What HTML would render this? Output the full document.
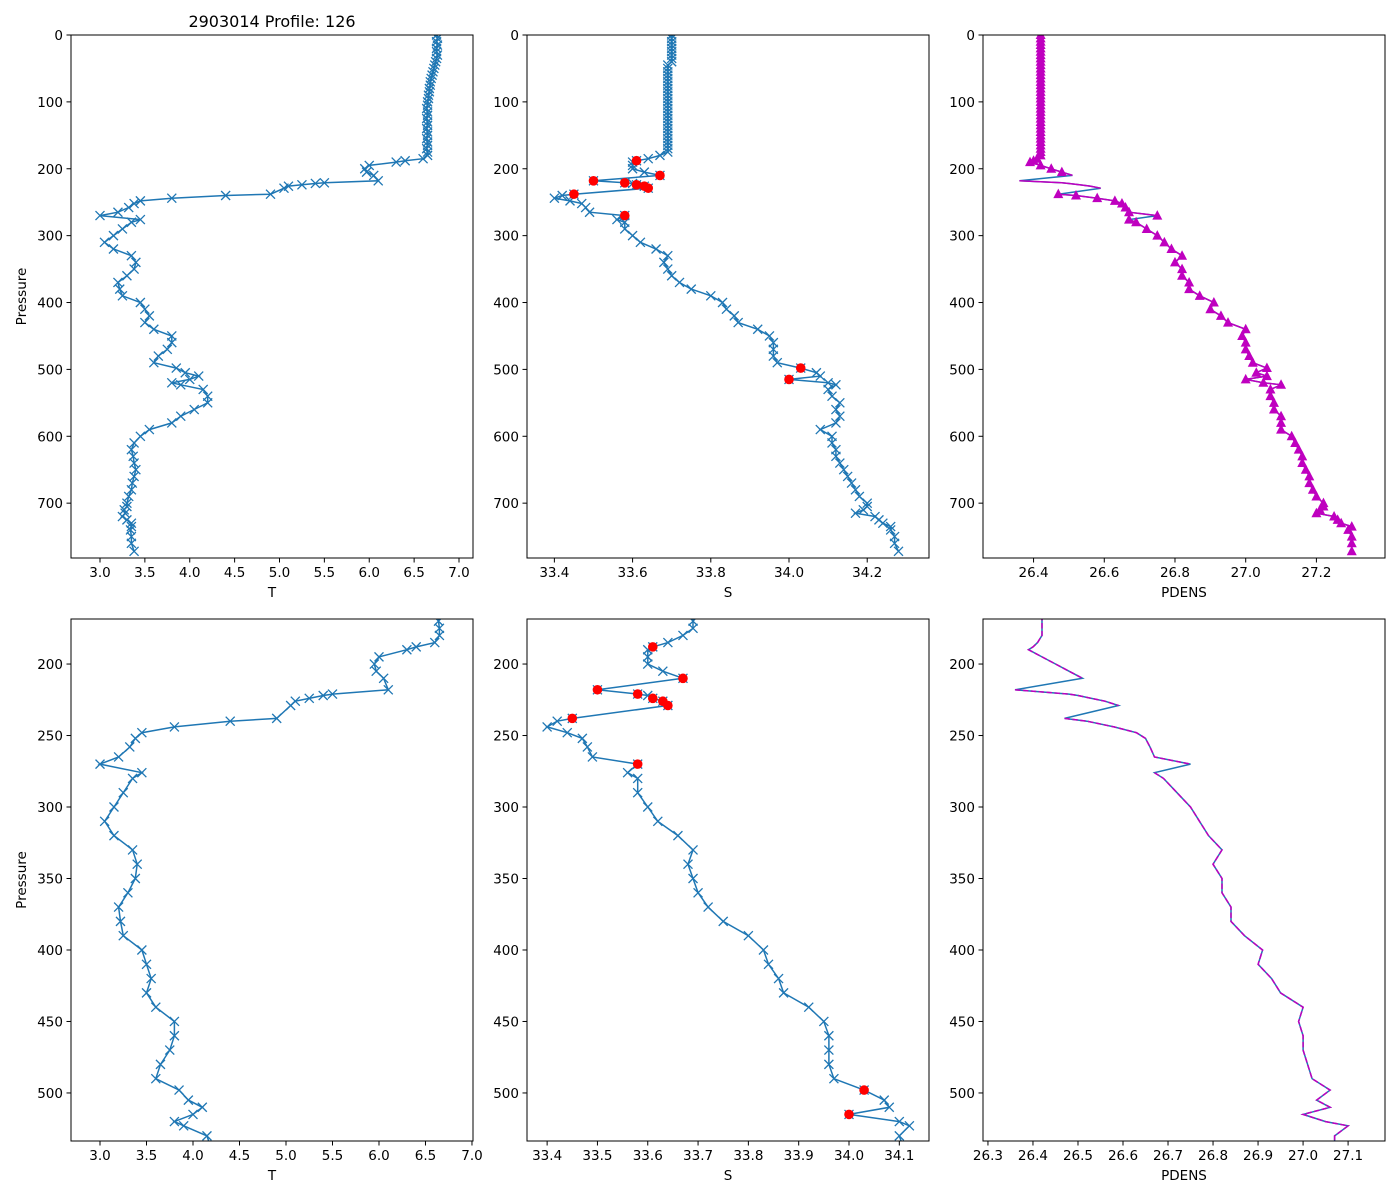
<!DOCTYPE html>
<html><head><meta charset="utf-8"><style>
html,body{margin:0;padding:0;background:#fff;overflow:hidden}
svg{display:block}
svg text{font-family:"DejaVu Sans","Liberation Sans",sans-serif;fill:#000}
</style></head><body>
<svg id="fig" width="1400" height="1200" viewBox="0 0 1400 1200" xmlns="http://www.w3.org/2000/svg">
<rect width="1400" height="1200" fill="#fff"/>
<text x="272" y="27" font-size="16" text-anchor="middle">2903014 Profile: 126</text>
</svg>
<script>
const pres = [0,5,10,15,20,25,30,35,40,45,50,55,60,65,70,75,80,85,90,95,100,105,110,115,120,125,130,135,140,145,150,155,160,165,170,175,180,
185,188,190,195,200,205,210,218,221,222,224,226,229,238,240,244,248,252,258,265,270,276,280,290,300,310,320,330,340,350,360,370,380,390,400,410,420,430,440,450,460,470,480,490,498,505,510,515,520,523,530,540,550,560,570,580,
590,600,610,620,630,640,650,660,670,680,690,700,705,710,715,720,725,730,735,740,750,760,772];
const temp = [6.75,6.76,6.75,6.76,6.75,6.75,6.76,6.75,6.74,6.73,6.72,6.71,6.7,6.69,6.68,6.68,6.67,6.67,6.66,6.66,6.65,6.65,6.64,6.65,6.65,6.64,6.65,6.65,6.64,6.65,6.65,6.64,6.65,6.65,6.64,6.65,6.65,
6.6,6.4,6.3,6.0,5.95,5.97,6.05,6.1,5.5,5.4,5.25,5.1,5.05,4.9,4.4,3.8,3.45,3.38,3.32,3.2,3.0,3.45,3.35,3.25,3.15,3.05,3.15,3.35,3.4,3.38,3.3,3.2,3.22,3.25,3.45,3.5,3.55,3.5,3.6,3.8,3.8,3.75,3.65,3.6,3.85,3.95,4.1,4.0,3.8,3.9,4.15,4.2,4.2,4.05,3.9,3.8,
3.55,3.45,3.38,3.35,3.37,3.38,3.4,3.38,3.36,3.35,3.32,3.3,3.3,3.27,3.28,3.25,3.3,3.35,3.35,3.34,3.35,3.35,3.38];
const sal = [33.7,33.7,33.7,33.7,33.7,33.7,33.7,33.7,33.7,33.69,33.69,33.69,33.69,33.69,33.69,33.69,33.69,33.69,33.69,33.69,33.69,33.69,33.69,33.69,33.69,33.69,33.69,33.69,33.69,33.69,33.69,33.69,33.69,33.69,33.69,33.69,33.67,
33.64,33.61,33.6,33.6,33.6,33.63,33.67,33.5,33.58,33.6,33.61,33.63,33.64,33.45,33.42,33.4,33.44,33.47,33.48,33.49,33.58,33.56,33.58,33.58,33.6,33.62,33.66,33.69,33.68,33.69,33.7,33.72,33.75,33.8,33.83,33.84,33.86,33.87,33.92,33.95,33.96,33.96,33.96,33.97,34.03,34.07,34.08,34.0,34.1,34.12,34.1,34.11,34.13,34.12,34.13,34.12,
34.08,34.11,34.11,34.12,34.12,34.13,34.14,34.15,34.16,34.17,34.18,34.2,34.2,34.19,34.17,34.22,34.23,34.24,34.26,34.26,34.27,34.27,34.28];
const pdens = [26.42,26.42,26.42,26.42,26.42,26.42,26.42,26.42,26.42,26.42,26.42,26.42,26.42,26.42,26.42,26.42,26.42,26.42,26.42,26.42,26.42,26.42,26.42,26.42,26.42,26.42,26.42,26.42,26.42,26.42,26.42,26.42,26.42,26.42,26.42,26.42,26.42,
26.41,26.4,26.39,26.42,26.45,26.48,26.51,26.36,26.48,26.5,26.53,26.56,26.59,26.47,26.52,26.58,26.63,26.65,26.66,26.67,26.75,26.67,26.69,26.72,26.75,26.77,26.79,26.82,26.8,26.82,26.82,26.84,26.84,26.87,26.91,26.9,26.93,26.95,27.0,26.99,27.0,27.0,27.01,27.02,27.06,27.03,27.06,27.0,27.05,27.1,27.07,27.07,27.08,27.08,27.1,27.1,
27.1,27.13,27.14,27.15,27.16,27.16,27.17,27.18,27.18,27.19,27.2,27.22,27.22,27.21,27.2,27.25,27.26,27.27,27.3,27.29,27.3,27.3,27.3];
const badFlag = [188,210,218,221,224,226,229,238,270,498,515];
const pdBreakAfter = [210,229,270];

const NS='http://www.w3.org/2000/svg';
const svg=document.getElementById('fig');
function mk(tag,attrs,parent){const e=document.createElementNS(NS,tag);for(const k in attrs)e.setAttribute(k,attrs[k]);(parent||svg).appendChild(e);return e;}

const TOPY=[0,782], BOTY=[168.5,533.6];
const panels=[
 {name:'top-temperature',x0:71,x1:473,y0:35,y1:558,xd:[2.677,7.156],yd:TOPY,xt:[3,3.5,4,4.5,5,5.5,6,6.5,7],yt:[0,100,200,300,400,500,600,700],xl:'T',yl:true,v:temp,kind:'x'},
 {name:'top-salinity',x0:527,x1:929,y0:35,y1:558,xd:[33.33,34.358],yd:TOPY,xt:[33.4,33.6,33.8,34.0,34.2],yt:[0,100,200,300,400,500,600,700],xl:'S',yl:false,v:sal,kind:'s'},
 {name:'top-density',x0:983,x1:1385,y0:35,y1:558,xd:[26.257,27.394],yd:TOPY,xt:[26.4,26.6,26.8,27.0,27.2],yt:[0,100,200,300,400,500,600,700],xl:'PDENS',yl:false,v:pdens,kind:'pt'},
 {name:'bottom-temperature',x0:71,x1:473,y0:619,y1:1141,xd:[2.688,7.011],yd:BOTY,xt:[3,3.5,4,4.5,5,5.5,6,6.5,7],yt:[200,250,300,350,400,450,500],xl:'T',yl:true,v:temp,kind:'x'},
 {name:'bottom-salinity',x0:527,x1:929,y0:619,y1:1141,xd:[33.36,34.159],yd:BOTY,xt:[33.4,33.5,33.6,33.7,33.8,33.9,34.0,34.1],yt:[200,250,300,350,400,450,500],xl:'S',yl:false,v:sal,kind:'s'},
 {name:'bottom-density',x0:983,x1:1385,y0:619,y1:1141,xd:[26.289,27.182],yd:BOTY,xt:[26.3,26.4,26.5,26.6,26.7,26.8,26.9,27.0,27.1],yt:[200,250,300,350,400,450,500],xl:'PDENS',yl:false,v:pdens,kind:'pd'}
];
const BLUE='#1f77b4';
panels.forEach((p,pi)=>{
 const g=mk('g',{});
 
 
 const sx=v=>p.x0+(v-p.xd[0])/(p.xd[1]-p.xd[0])*(p.x1-p.x0);
 const sy=v=>p.y0+(v-p.yd[0])/(p.yd[1]-p.yd[0])*(p.y1-p.y0);
 const cid='clip'+pi;
 const cp=mk('clipPath',{id:cid},g);mk('rect',{x:p.x0,y:p.y0,width:p.x1-p.x0,height:p.y1-p.y0},cp);
 const plot=mk('g',{'clip-path':'url(#'+cid+')'},g);
 let d='';
 pres.forEach((pp,i)=>{d+=(i?'L':'M')+sx(p.v[i]).toFixed(1)+' '+sy(pp).toFixed(1);});
 const ln=mk('path',{d:d,fill:'none',stroke:BLUE,'stroke-width':1.5},plot);
 
 
 if(p.kind==='x'||p.kind==='s'){
  pres.forEach((pp,i)=>{const cx=sx(p.v[i]),cy=sy(pp);
   const m=mk('path',{d:`M${cx-4.5} ${cy-4.5}L${cx+4.5} ${cy+4.5}M${cx-4.5} ${cy+4.5}L${cx+4.5} ${cy-4.5}`,stroke:BLUE,'stroke-width':1.3,fill:'none'},plot);
   
   
  });
  if(p.kind==='s'){
   pres.forEach((pp,i)=>{if(badFlag.indexOf(pp)<0)return;
    const c=mk('circle',{cx:sx(p.v[i]),cy:sy(pp),r:4.8,fill:'#ff0000'},plot);
    
    
   });
  }
 } else {
  let md='';let pen=false;
  pres.forEach((pp,i)=>{md+=(pen?'L':'M')+sx(p.v[i]).toFixed(1)+' '+sy(pp).toFixed(1);pen=pdBreakAfter.indexOf(pp)<0;});
  const mline=mk('path',{d:md,fill:'none',stroke:'#bf00bf','stroke-width':1.5,'stroke-dasharray':p.kind==='pd'?'5.5,2.4':'none'},plot);
  
  
  if(p.kind==='pt'){
   pres.forEach((pp,i)=>{if(pp>205&&pp<236)return;
    const cx=sx(p.v[i]),cy=sy(pp);
    const t=mk('path',{d:`M${cx} ${cy-5.5}L${cx+5} ${cy+4}L${cx-5} ${cy+4}Z`,fill:'#bf00bf'},plot);
    
    
   });
  }
 }
 mk('rect',{x:p.x0,y:p.y0,width:p.x1-p.x0,height:p.y1-p.y0,fill:'none',stroke:'#000','stroke-width':1},g);
 p.xt.forEach(t=>{const x=sx(t);
  mk('line',{x1:x,x2:x,y1:p.y1,y2:p.y1+4.5,stroke:'#000'},g);
  const tx=mk('text',{x:x,y:p.y1+19,'font-size':13.5,'text-anchor':'middle'},g);tx.textContent=t.toFixed(1);
  
  
 });
 p.yt.forEach(t=>{const y=sy(t);
  mk('line',{x1:p.x0-4.5,x2:p.x0,y1:y,y2:y,stroke:'#000'},g);
  const tx=mk('text',{x:p.x0-8,y:y+5,'font-size':13.5,'text-anchor':'end'},g);tx.textContent=t;
  
  
 });
 const xl=mk('text',{x:(p.x0+p.x1)/2,y:p.y1+39,'font-size':13.5,'text-anchor':'middle'},g);xl.textContent=p.xl;
 
 
 if(p.yl){const c=(p.y0+p.y1)/2;
  const yl=mk('text',{x:26,y:c,'font-size':13.5,'text-anchor':'middle',transform:`rotate(-90 26 ${c})`},g);yl.textContent='Pressure';
  
  
 }
});
</script>
</body></html>
